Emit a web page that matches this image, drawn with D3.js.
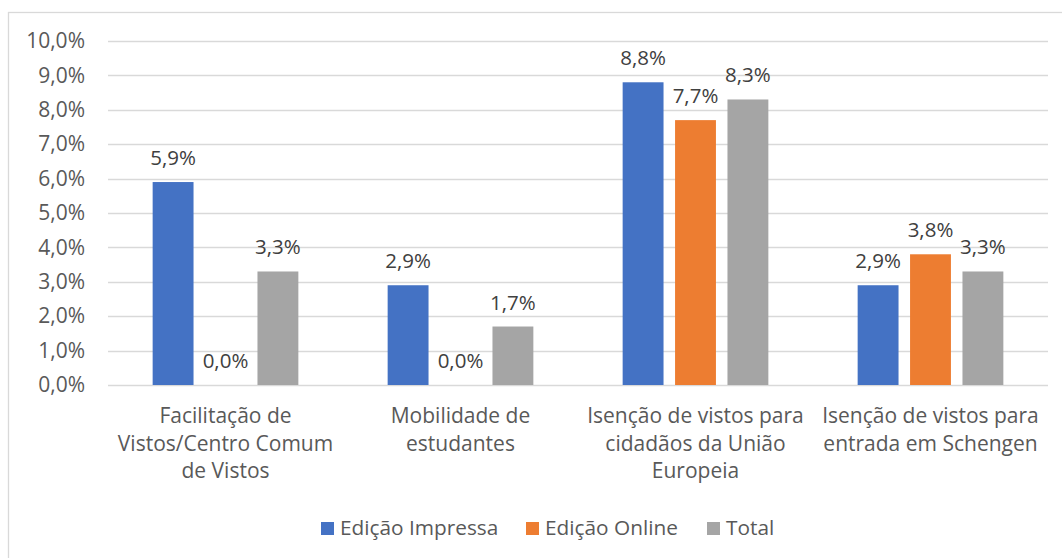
<!DOCTYPE html>
<html>
<head>
<meta charset="utf-8">
<script src="https://cdn.jsdelivr.net/npm/d3@7"></script>
<style>
  body { margin: 0; background: #fff; }
  svg { display: block; }
  svg text { font-family: "Open Sans", sans-serif; }
</style>
</head>
<body>
<div class="container"></div>
<script>
const categories = [
  "Facilitação de\nVistos/Centro Comum\nde Vistos",
  "Mobilidade de\nestudantes",
  "Isenção de vistos para\ncidadãos da União\nEuropeia",
  "Isenção de vistos para\nentrada em Schengen"
];
const seriesNames = ["Edição Impressa", "Edição Online", "Total"];
const impressa = [5.9, 2.9, 8.8, 2.9];
const online = [0.0, 0.0, 7.7, 3.8];
const total = [3.3, 1.7, 8.3, 3.3];
const yTicks = [0, 1, 2, 3, 4, 5, 6, 7, 8, 9, 10];

const seriesValues = [impressa, online, total];
const colors = ["#4472C4", "#ED7D31", "#A5A5A5"];

const width = 1062, height = 558;
const plot = { left: 108, right: 1048, top: 41, bottom: 385 };

const ptLocale = d3.formatLocale({ decimal: ",", thousands: ".", grouping: [3], currency: ["", " €"] });
const fmt = ptLocale.format(".1f");
const pct = (v) => fmt(v) + "%";

const svg = d3
  .select(".container")
  .append("svg")
  .attr("width", width)
  .attr("height", height);

// chart frame (only top and left edges fall inside the picture)
svg.append("rect")
  .attr("x", 8.5).attr("y", 12.5)
  .attr("width", 1100).attr("height", 600)
  .attr("fill", "none")
  .attr("stroke", "#D9D9D9")
  .attr("stroke-width", 1.3);

const x0 = d3.scaleBand()
  .domain(categories)
  .range([plot.left, plot.right]);

const x1 = d3.scaleBand()
  .domain(seriesNames)
  .range([x0.bandwidth() * 0.19, x0.bandwidth() * 0.81])
  .paddingInner(0.22);

const y = d3.scaleLinear()
  .domain([0, 10])
  .range([plot.bottom, plot.top]);

// gridlines
svg.append("g")
  .selectAll("line")
  .data(yTicks)
  .join("line")
  .attr("x1", plot.left)
  .attr("x2", plot.right)
  .attr("y1", (d) => Math.round(y(d)) + 0.5)
  .attr("y2", (d) => Math.round(y(d)) + 0.5)
  .attr("stroke", "#D9D9D9")
  .attr("stroke-width", 1.3);

// y axis labels
const yAxis = d3.axisLeft(y)
  .tickValues(yTicks)
  .tickFormat(pct)
  .tickSize(0)
  .tickPadding(23);

const gy = svg.append("g")
  .attr("transform", `translate(${plot.left},0)`)
  .call(yAxis);
gy.select(".domain").remove();
gy.selectAll("text")
  .attr("fill", "#595959")
  .style("font-size", "21px");

// bars
const rows = categories.map((c, i) => ({
  cat: c,
  vals: seriesNames.map((s, j) => ({ s, v: seriesValues[j][i], color: colors[j] }))
}));

const groups = svg.append("g")
  .selectAll("g")
  .data(rows)
  .join("g")
  .attr("transform", (d) => `translate(${x0(d.cat)},0)`);

groups.selectAll("rect")
  .data((d) => d.vals)
  .join("rect")
  .attr("x", (d) => x1(d.s))
  .attr("width", x1.bandwidth())
  .attr("y", (d) => y(d.v))
  .attr("height", (d) => y(0) - y(d.v))
  .attr("fill", (d) => d.color);

groups.selectAll("text")
  .data((d) => d.vals)
  .join("text")
  .attr("x", (d) => x1(d.s) + x1.bandwidth() / 2)
  .attr("y", (d) => y(d.v) - 17)
  .attr("text-anchor", "middle")
  .attr("fill", "#404040")
  .style("font-size", "20.5px")
  .text((d) => pct(d.v));

// category labels
svg.append("g")
  .selectAll("text")
  .data(categories)
  .join("text")
  .attr("y", 423)
  .attr("text-anchor", "middle")
  .attr("fill", "#595959")
  .style("font-size", "21px")
  .selectAll("tspan")
  .data((d) => d.split("\n").map((t) => ({ t, cat: d })))
  .join("tspan")
  .attr("x", (d) => x0(d.cat) + x0.bandwidth() / 2)
  .attr("dy", (d, i) => (i ? 27.5 : 0))
  .text((d) => d.t);

// legend
const legendX = [321, 526, 707];
const legend = svg.append("g")
  .selectAll("g")
  .data(seriesNames)
  .join("g")
  .attr("transform", (d, i) => `translate(${legendX[i]},522)`);

legend.append("rect")
  .attr("width", 13)
  .attr("height", 13)
  .attr("fill", (d, i) => colors[i]);

legend.append("text")
  .attr("x", 19)
  .attr("y", 13)
  .attr("fill", "#595959")
  .style("font-size", "20.8px")
  .text((d) => d);
</script>
</body>
</html>
